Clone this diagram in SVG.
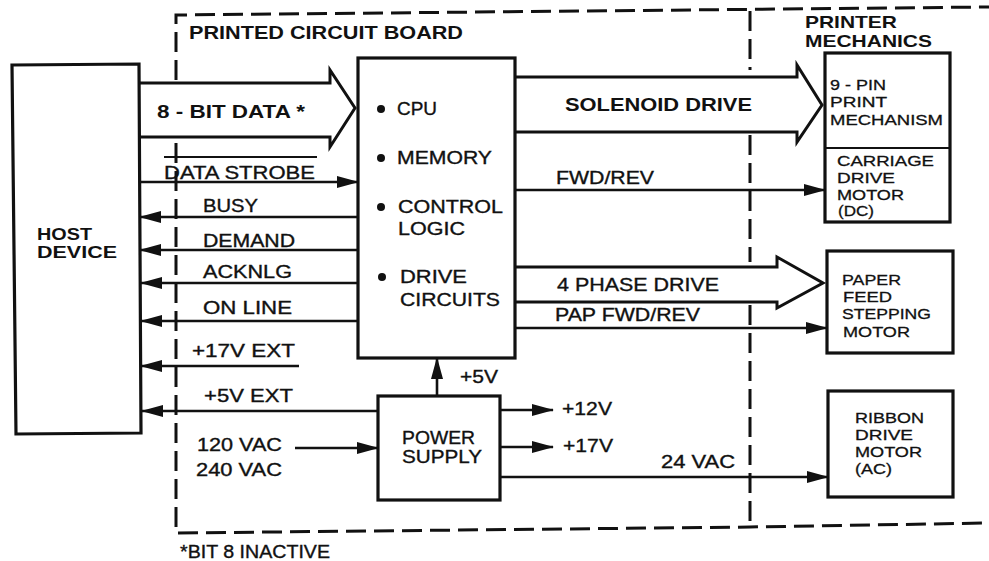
<svg xmlns="http://www.w3.org/2000/svg" width="989" height="561" viewBox="0 0 989 561">
<style>
text{font-family:"Liberation Sans",Arial,sans-serif;fill:#111}
.b{font-weight:bold;font-size:19px}
.h{font-weight:bold;font-size:17px}
.r{font-size:18px;stroke:#111;stroke-width:0.35px}
.c{font-size:15px;stroke:#111;stroke-width:0.3px}
.box{fill:#fff;stroke:#111;stroke-width:3.2}
.ln{fill:none;stroke:#111;stroke-width:2.6}
.fat{fill:none;stroke:#111;stroke-width:3;stroke-linejoin:miter}
.dash{fill:none;stroke:#111;stroke-width:3;stroke-dasharray:20 8}
</style>
<defs>
<marker id="ah" viewBox="0 0 22 12" refX="21" refY="6" markerWidth="22" markerHeight="12" markerUnits="userSpaceOnUse" orient="auto">
<path d="M0,0 L22,6 L0,12 z" fill="#111"/>
</marker>
</defs>
<rect width="989" height="561" fill="#fff"/>

<g id="boundaries">
<path class="dash" d="M176,80 V15 L989,7"/>
<path class="dash" d="M176,143 V533 L750,527 L989,523"/>
<path class="dash" d="M750,11 V70"/>
<path class="dash" d="M750,135 V262"/>
<path class="dash" d="M750,305 V527"/>
<text class="b" x="189" y="39" textLength="274" lengthAdjust="spacingAndGlyphs">PRINTED CIRCUIT BOARD</text>
<text class="h" x="805" y="28" textLength="92" lengthAdjust="spacingAndGlyphs">PRINTER</text>
<text class="h" x="805" y="47" textLength="127" lengthAdjust="spacingAndGlyphs">MECHANICS</text>
<text class="r" x="180" y="558" textLength="150" lengthAdjust="spacingAndGlyphs">*BIT 8 INACTIVE</text>
</g>

<g id="host">
<path class="box" d="M12,65 L139,64 L141,433 L16,434 z"/>
<text class="h" x="37" y="240" textLength="55" lengthAdjust="spacingAndGlyphs">HOST</text>
<text class="h" x="37" y="258" textLength="80" lengthAdjust="spacingAndGlyphs">DEVICE</text>
</g>

<g id="cpu">
<rect class="box" x="358" y="58" width="157" height="300"/>
<circle cx="381" cy="109" r="4" fill="#111"/>
<circle cx="381" cy="158" r="4" fill="#111"/>
<circle cx="381" cy="207" r="4" fill="#111"/>
<circle cx="382" cy="277" r="4" fill="#111"/>
<text class="r" x="397" y="115" textLength="40" lengthAdjust="spacingAndGlyphs">CPU</text>
<text class="r" x="397" y="164" textLength="95" lengthAdjust="spacingAndGlyphs">MEMORY</text>
<text class="r" x="398" y="213" textLength="105" lengthAdjust="spacingAndGlyphs">CONTROL</text>
<text class="r" x="398" y="235" textLength="67" lengthAdjust="spacingAndGlyphs">LOGIC</text>
<text class="r" x="400" y="283" textLength="67" lengthAdjust="spacingAndGlyphs">DRIVE</text>
<text class="r" x="400" y="306" textLength="100" lengthAdjust="spacingAndGlyphs">CIRCUITS</text>
</g>

<g id="power">
<rect class="box" x="378" y="396" width="122" height="104"/>
<text class="r" x="402" y="444" textLength="73" lengthAdjust="spacingAndGlyphs">POWER</text>
<text class="r" x="402" y="463" textLength="80" lengthAdjust="spacingAndGlyphs">SUPPLY</text>
</g>

<g id="printmech">
<rect class="box" x="825" y="53" width="125" height="169"/>
<line class="ln" x1="825" y1="148" x2="950" y2="148" style="stroke-width:2"/>
<text class="c" x="830" y="90" textLength="56" lengthAdjust="spacingAndGlyphs">9 - PIN</text>
<text class="c" x="830" y="107" textLength="57" lengthAdjust="spacingAndGlyphs">PRINT</text>
<text class="c" x="830" y="125" textLength="113" lengthAdjust="spacingAndGlyphs">MECHANISM</text>
<text class="c" x="837" y="166" textLength="97" lengthAdjust="spacingAndGlyphs">CARRIAGE</text>
<text class="c" x="837" y="183" textLength="58" lengthAdjust="spacingAndGlyphs">DRIVE</text>
<text class="c" x="837" y="200" textLength="67" lengthAdjust="spacingAndGlyphs">MOTOR</text>
<text class="c" x="838" y="216" textLength="36" lengthAdjust="spacingAndGlyphs">(DC)</text>
</g>

<g id="paperfeed">
<rect class="box" x="827" y="251" width="126" height="102"/>
<text class="c" x="842" y="285" textLength="59" lengthAdjust="spacingAndGlyphs">PAPER</text>
<text class="c" x="843" y="302" textLength="49" lengthAdjust="spacingAndGlyphs">FEED</text>
<text class="c" x="842" y="319" textLength="89" lengthAdjust="spacingAndGlyphs">STEPPING</text>
<text class="c" x="843" y="337" textLength="67" lengthAdjust="spacingAndGlyphs">MOTOR</text>
</g>

<g id="ribbon">
<rect class="box" x="828" y="391" width="125" height="106"/>
<text class="c" x="855" y="423" textLength="69" lengthAdjust="spacingAndGlyphs">RIBBON</text>
<text class="c" x="855" y="440" textLength="58" lengthAdjust="spacingAndGlyphs">DRIVE</text>
<text class="c" x="855" y="457" textLength="67" lengthAdjust="spacingAndGlyphs">MOTOR</text>
<text class="c" x="855" y="474" textLength="37" lengthAdjust="spacingAndGlyphs">(AC)</text>
</g>

<g id="connectors">
<path class="fat" d="M140,83 H330 V70 L355,108 L330,147 V137 H140"/>
<path class="fat" d="M515,77 H797 V65 L822,105 L797,142 V132 H515"/>
<path class="fat" d="M515,267 H777 V257 L823,283 L777,308 V302 H515"/>
<line class="ln" x1="140" y1="182" x2="358" y2="182" marker-end="url(#ah)"/>
<line class="ln" x1="358" y1="217" x2="140" y2="217" marker-end="url(#ah)"/>
<line class="ln" x1="358" y1="250" x2="140" y2="250" marker-end="url(#ah)"/>
<line class="ln" x1="358" y1="283" x2="141" y2="283" marker-end="url(#ah)"/>
<line class="ln" x1="358" y1="321" x2="141" y2="321" marker-end="url(#ah)"/>
<line class="ln" x1="299" y1="366" x2="141" y2="366" marker-end="url(#ah)"/>
<line class="ln" x1="378" y1="411" x2="142" y2="411" marker-end="url(#ah)"/>
<line class="ln" x1="295" y1="448" x2="378" y2="448" marker-end="url(#ah)"/>
<line class="ln" x1="437" y1="396" x2="437" y2="358" marker-end="url(#ah)"/>
<line class="ln" x1="500" y1="410" x2="553" y2="410" marker-end="url(#ah)"/>
<line class="ln" x1="500" y1="447" x2="553" y2="447" marker-end="url(#ah)"/>
<line class="ln" x1="500" y1="477" x2="828" y2="477" marker-end="url(#ah)"/>
<line class="ln" x1="515" y1="190" x2="825" y2="190" marker-end="url(#ah)"/>
<line class="ln" x1="515" y1="328" x2="827" y2="328" marker-end="url(#ah)"/>
<line class="ln" x1="164" y1="157" x2="317" y2="157" style="stroke-width:2"/>
<text class="b" x="157" y="118" textLength="148" lengthAdjust="spacingAndGlyphs">8 - BIT DATA *</text>
<text class="b" x="565" y="111" textLength="187" lengthAdjust="spacingAndGlyphs">SOLENOID DRIVE</text>
<text class="r" x="164" y="179" textLength="151" lengthAdjust="spacingAndGlyphs">DATA STROBE</text>
<text class="r" x="203" y="212" textLength="55" lengthAdjust="spacingAndGlyphs">BUSY</text>
<text class="r" x="203" y="247" textLength="92" lengthAdjust="spacingAndGlyphs">DEMAND</text>
<text class="r" x="203" y="278" textLength="89" lengthAdjust="spacingAndGlyphs">ACKNLG</text>
<text class="r" x="203" y="314" textLength="89" lengthAdjust="spacingAndGlyphs">ON LINE</text>
<text class="r" x="192" y="357" textLength="103" lengthAdjust="spacingAndGlyphs">+17V EXT</text>
<text class="r" x="204" y="402" textLength="89" lengthAdjust="spacingAndGlyphs">+5V EXT</text>
<text class="r" x="197" y="451" textLength="85" lengthAdjust="spacingAndGlyphs">120 VAC</text>
<text class="r" x="196" y="476" textLength="86" lengthAdjust="spacingAndGlyphs">240 VAC</text>
<text class="r" x="460" y="383" textLength="38" lengthAdjust="spacingAndGlyphs">+5V</text>
<text class="r" x="562" y="415" textLength="50" lengthAdjust="spacingAndGlyphs">+12V</text>
<text class="r" x="563" y="452" textLength="50" lengthAdjust="spacingAndGlyphs">+17V</text>
<text class="r" x="661" y="468" textLength="74" lengthAdjust="spacingAndGlyphs">24 VAC</text>
<text class="r" x="556" y="184" textLength="98" lengthAdjust="spacingAndGlyphs">FWD/REV</text>
<text class="r" x="557" y="291" textLength="162" lengthAdjust="spacingAndGlyphs">4 PHASE DRIVE</text>
<text class="r" x="555" y="321" textLength="145" lengthAdjust="spacingAndGlyphs">PAP FWD/REV</text>
</g>
</svg>
